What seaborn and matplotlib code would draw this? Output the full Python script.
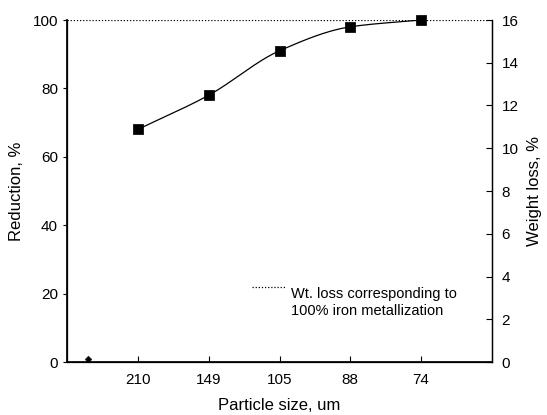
import numpy as np
import pandas as pd
import matplotlib
matplotlib.use("Agg")
import matplotlib.pyplot as plt
import seaborn as sns

sizes = ["210", "149", "105", "88", "74"]
reduction = [68, 78, 91, 98, 100]
start_point_x = [0.3]
start_point_y = [1]
legend_text = "Wt. loss corresponding to\n100% iron metallization"

sns.set_theme(style="ticks")
plt.rcParams['font.family'] = ['Liberation Sans', 'DejaVu Sans']
for k in ["text.color", "axes.labelcolor", "xtick.color", "ytick.color", "axes.edgecolor"]:
    plt.rcParams[k] = "black"

fig = plt.figure(figsize=(5.47, 4.15), dpi=100)
ax = fig.add_axes([67/547, 1-362/415, (492-67)/547, (362-20)/415])

pos = np.arange(1, len(sizes) + 1)
df = pd.DataFrame({"pos": pos, "red": reduction})

# smooth curve through data (monotone cubic, drawing only)
x = pos.astype(float); y = np.array(reduction, float)
h = np.diff(x); d = np.diff(y) / h
m = np.zeros_like(y)
m[0] = d[0]; m[-1] = d[-1]
for i in range(1, len(y) - 1):
    if d[i-1] * d[i] <= 0:
        m[i] = 0
    else:
        m[i] = 2 / (1/d[i-1] + 1/d[i])
xs, ys = [], []
for i in range(len(x) - 1):
    t = np.linspace(0, 1, 40)
    h00 = 2*t**3 - 3*t**2 + 1; h10 = t**3 - 2*t**2 + t
    h01 = -2*t**3 + 3*t**2; h11 = t**3 - t**2
    xs.append(x[i] + t*h[i])
    ys.append(h00*y[i] + h10*h[i]*m[i] + h01*y[i+1] + h11*h[i]*m[i+1])
xs = np.concatenate(xs); ys = np.concatenate(ys)
sns.lineplot(x=xs, y=ys, ax=ax, color="black", lw=0.9, sort=False)
sc = sns.scatterplot(data=df, x="pos", y="red", ax=ax, marker="s", s=45,
                     color="black", edgecolor="black", zorder=5, clip_on=False)
sns.scatterplot(x=start_point_x, y=start_point_y, ax=ax, marker="D", s=12,
                color="black", edgecolor="black", zorder=5, clip_on=False)

# 100% metallization line
ax.axhline(100, color="black", lw=0.9, ls=(0, (1, 1.5)))

ax.set_xlim(0, 6)
ax.set_ylim(0, 100)
ax.set_xticks(pos)
ax.set_xticklabels(sizes)
ax.set_yticks(np.arange(0, 101, 20))
ax.tick_params(axis="x", direction="in", length=4, labelsize=11, pad=8, width=0.8)
ax.tick_params(axis="y", direction="out", length=3, labelsize=11, width=0.8)
ax.set_xlabel("Particle size, um", fontsize=12, labelpad=8)
ax.set_ylabel("Reduction, %", fontsize=12, labelpad=6)
for s in ["left", "bottom", "right"]:
    ax.spines[s].set_linewidth(0.9)
ax.spines["top"].set_visible(False)

ax2 = ax.twinx()
ax2.set_ylim(0, 16)
ax2.set_yticks(np.arange(0, 17, 2))
ax2.tick_params(axis="y", direction="in", length=4, labelsize=11, pad=7, width=0.8)
ax2.set_ylabel("Weight loss, %", fontsize=12, labelpad=6)
ax2.spines["top"].set_visible(False)
ax2.spines["right"].set_linewidth(0.9)

# legend
ax.plot([(252-67)/70.83, (286-67)/70.83], [21.9, 21.9], color="black",
        lw=0.9, ls=(0, (1, 1.5)))
ax.text((291-67)/70.83, 21.9, legend_text, fontsize=10.5, va="top",
        ha="left", linespacing=1.25, transform=ax.transData)

fig.savefig("out.png", dpi=100)
